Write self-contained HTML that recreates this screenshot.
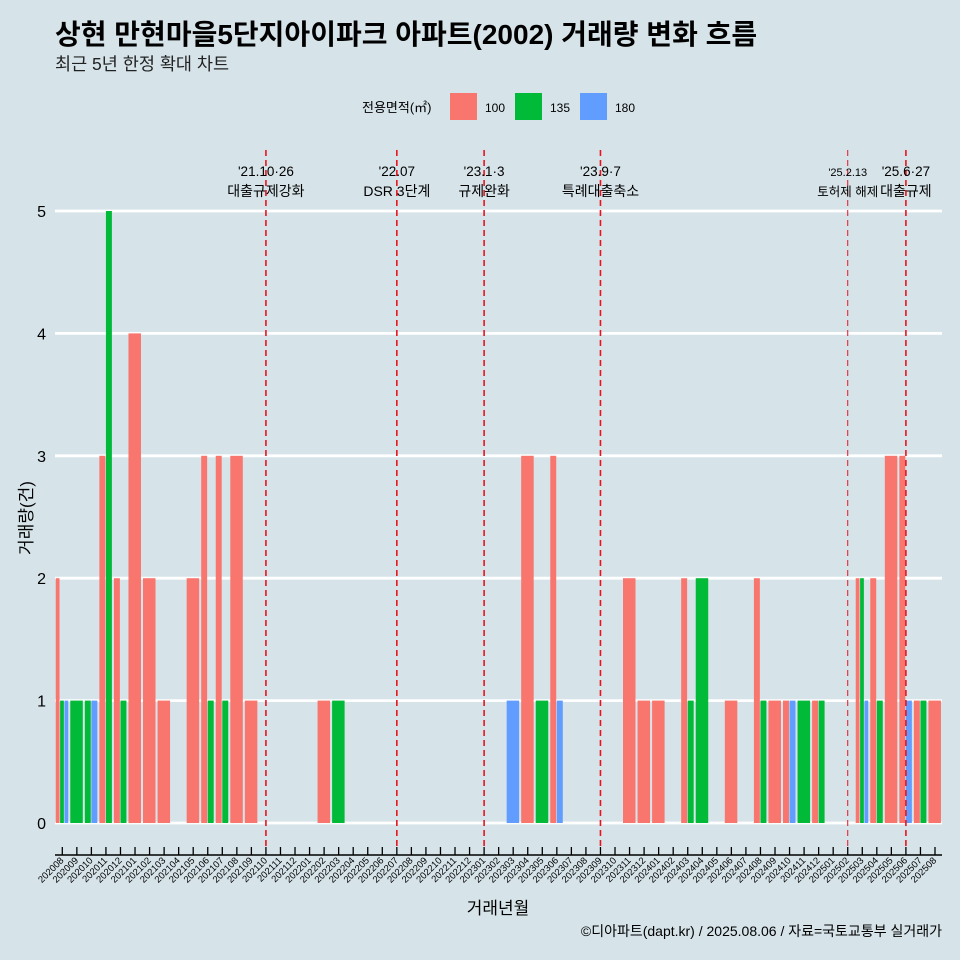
<!DOCTYPE html>
<html><head><meta charset="utf-8"><style>
body{margin:0;background:#d6e4ea;}
svg{display:block;font-family:"Liberation Sans","Noto Sans CJK KR",sans-serif;}
</style></head><body>
<svg id="chart" width="960" height="960" viewBox="0 0 960 960">
<rect width="960" height="960" fill="#d6e4ea"/>
<text x="55" y="44" font-size="28" font-weight="bold" fill="#000">상현 만현마을5단지아이파크 아파트(2002) 거래량 변화 흐름</text>
<text x="55" y="70" font-size="17.5" fill="#222">최근 5년 한정 확대 차트</text>
<g>
<text x="362" y="112" font-size="13" fill="#000">전용면적(㎡)</text>
<rect x="450" y="93" width="27" height="27" fill="#f8766d"/>
<text x="485" y="112" font-size="12">100</text>
<rect x="515" y="93" width="27" height="27" fill="#00ba38"/>
<text x="550" y="112" font-size="12">135</text>
<rect x="580" y="93" width="27" height="27" fill="#619cff"/>
<text x="615" y="112" font-size="12">180</text>
</g>
<g id="grid"></g><g id="bars"></g><g id="events"></g><g id="axes"></g>
<text transform="translate(32,518) rotate(-90)" text-anchor="middle" font-size="17">거래량(건)</text>
<text x="498" y="914" text-anchor="middle" font-size="17">거래년월</text>
<text x="942" y="936" text-anchor="end" font-size="14">©디아파트(dapt.kr) / 2025.08.06 / 자료=국토교통부 실거래가</text>
</svg>
<script>
const months=[];for(let y=2020;y<=2025;y++)for(let m=1;m<=12;m++){const k=y*100+m;if(k>=202008&&k<=202508)months.push(String(k));}
const areas=["100","135","180"];
const colors={"100":"#f8766d","135":"#00ba38","180":"#619cff"};
const s100={"202008":2,"202011":3,"202012":2,"202101":4,"202102":2,"202103":1,"202105":2,"202106":3,"202107":3,"202108":3,"202109":1,"202202":1,"202304":3,"202306":3,"202311":2,"202312":1,"202401":1,"202403":2,"202406":1,"202408":2,"202409":1,"202410":1,"202412":1,"202503":2,"202504":2,"202505":3,"202506":3,"202507":1,"202508":1};
const s135={"202008":1,"202009":1,"202010":1,"202011":5,"202012":1,"202106":1,"202107":1,"202203":1,"202305":1,"202403":1,"202404":2,"202408":1,"202411":1,"202412":1,"202503":2,"202504":1,"202507":1};
const s180={"202008":1,"202010":1,"202303":1,"202306":1,"202410":1,"202503":1,"202506":1};
const yTicks=[0,1,2,3,4,5];
const events=[{m:"202110",d:"'21.10·26",t:"대출규제강화",w:1.6},{m:"202207",d:"'22.07",t:"DSR 3단계",w:1.6},{m:"202301",d:"'23.1·3",t:"규제완화",w:1.6},{m:"202309",d:"'23.9·7",t:"특례대출축소",w:1.6},{m:"202502",d:"'25.2.13",t:"토허제 해제",w:1,small:true},{m:"202506",d:"'25.6·27",t:"대출규제",w:1.6}];
const NS="http://www.w3.org/2000/svg";
const X0=62.3,DX=14.545,slot=13.1;
const xs=m=>X0+months.indexOf(m)*DX;
const ys=v=>823-v*122.4;
function mk(tag,attrs,parent){const e=document.createElementNS(NS,tag);for(const k in attrs)e.setAttribute(k,attrs[k]);parent.appendChild(e);return e;}
const grid=document.getElementById('grid'),bars=document.getElementById('bars'),ev=document.getElementById('events'),ax=document.getElementById('axes');
yTicks.forEach(v=>{
 const l=mk('line',{x1:55,x2:942,y1:ys(v),y2:ys(v),stroke:'#fff','stroke-width':2.8},grid);
 
 
 const t=mk('text',{x:46,y:ys(v)+6,'text-anchor':'end','font-size':16},ax);t.textContent=v;
 
 
});
const series={"100":s100,"135":s135,"180":s180};
months.forEach(m=>{
 const present=areas.filter(a=>series[a][m]);
 if(!present.length)return;
 const w=slot/present.length;
 present.forEach((a,i)=>{
  const v=series[a][m];
  const r=mk('rect',{x:xs(m)-slot/2+i*w,y:ys(v),width:Math.max(w-0.6,0.5),height:ys(0)-ys(v),fill:colors[a]},bars);
  
  
 });
});
events.forEach(e=>{
 const x=xs(e.m);
 const l=mk('line',{x1:x,x2:x,y1:150,y2:846,stroke:'#e8131f','stroke-width':e.w,'stroke-dasharray':'6,4'},ev);
 
 
 const t1=mk('text',{x:x,y:176,'text-anchor':'middle','font-size':e.small?11:13.5},ev);t1.textContent=e.d;
 
 
 const t2=mk('text',{x:x,y:196,'text-anchor':'middle','font-size':e.small?12.5:14},ev);t2.textContent=e.t;
 
 
});
const axl=mk('line',{x1:55,x2:942,y1:855,y2:855,stroke:'#000','stroke-width':1.5},ax);


months.forEach(m=>{
 const x=xs(m);
 const tk=mk('line',{x1:x,x2:x,y1:847,y2:855,stroke:'#000','stroke-width':1.3},ax);
 
 
 const t=mk('text',{x:x+2,y:861,'text-anchor':'end','font-size':9.5,transform:'rotate(-45 '+(x+2)+' 861)'},ax);t.textContent=m;
 
 
});
</script>
</body></html>
